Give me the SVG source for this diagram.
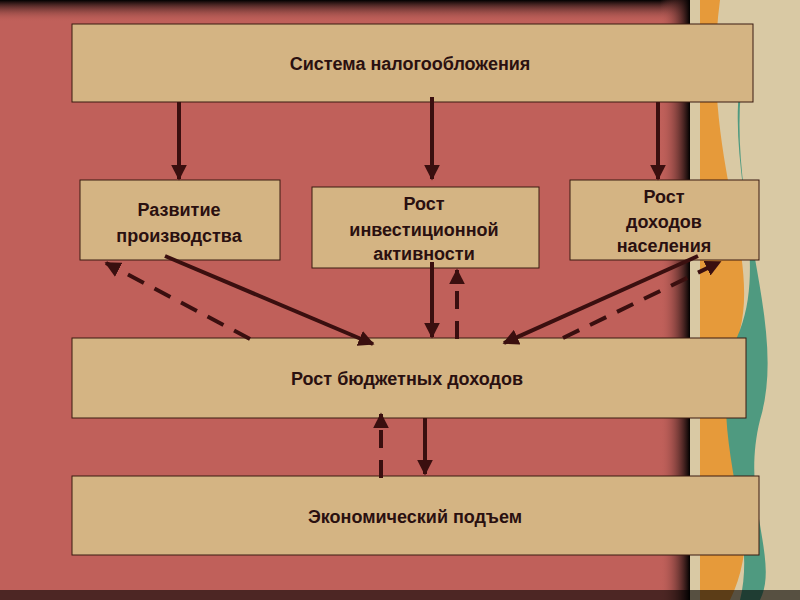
<svg xmlns="http://www.w3.org/2000/svg" width="800" height="600" viewBox="0 0 800 600">
<defs>
<linearGradient id="top" x1="0" y1="0" x2="0" y2="1"><stop offset="0" stop-color="#000"/><stop offset="1" stop-color="#c0605a" stop-opacity="0"/></linearGradient>
<linearGradient id="rs" x1="0" y1="0" x2="1" y2="0"><stop offset="0" stop-color="#c0605a" stop-opacity="0"/><stop offset="1" stop-color="#000"/></linearGradient>
<marker id="ah" viewBox="0 0 10 10" refX="9" refY="5" markerWidth="4" markerHeight="4" orient="auto" markerUnits="strokeWidth"><path d="M0,0 L10,5 L0,10 z" fill="#3a0f0f"/></marker>
<style>
.box{fill:#d4b483;stroke:#3a1a10;stroke-width:1}
.t{font-family:"Liberation Sans",Arial,sans-serif;font-weight:bold;font-size:18px;fill:#2a1010;text-anchor:middle}
.s{stroke:#3a0f0f;stroke-width:4;fill:none;marker-end:url(#ah)}
.d{stroke:#3a0f0f;stroke-width:4;fill:none;stroke-dasharray:18 12;marker-end:url(#ah)}
</style>
</defs>
<rect width="800" height="600" fill="#c0605a"/>
<rect width="690" height="22" fill="url(#top)"/>
<rect x="660" y="0" width="30" height="600" fill="url(#rs)"/>
<rect x="690" y="0" width="110" height="600" fill="#d9c9a4"/>
<path d="M720,0 C700,150 760,250 740,330 C720,420 770,520 730,600 L700,600 L700,0 z" fill="#e69a3a"/>
<path d="M745,60 C720,200 790,320 760,420 C740,500 780,560 760,600 L740,600 C760,520 700,420 740,330 C770,250 720,150 745,60 z" fill="#4f9a80"/>
<rect x="0" y="590" width="800" height="10" fill="#000" opacity="0.6"/>
<g id="n1"><rect class="box" x="72" y="24" width="681" height="78"/><text class="t" x="410" y="70">Система налогообложения</text></g>
<g id="n2"><rect class="box" x="80" y="180" width="200" height="80"/><text class="t" x="179" y="216">Развитие</text><text class="t" x="179" y="242">производства</text></g>
<g id="n3"><rect class="box" x="312" y="187" width="227" height="81"/><text class="t" x="424" y="210">Рост</text><text class="t" x="424" y="236">инвестиционной</text><text class="t" x="424" y="260">активности</text></g>
<g id="n4"><rect class="box" x="570" y="180" width="189" height="80"/><text class="t" x="664" y="203">Рост</text><text class="t" x="664" y="228">доходов</text><text class="t" x="664" y="252">населения</text></g>
<g id="n5"><rect class="box" x="72" y="338" width="674" height="80"/><text class="t" x="407" y="385">Рост бюджетных доходов</text></g>
<g id="n6"><rect class="box" x="72" y="476" width="687" height="79"/><text class="t" x="415" y="523">Экономический подъем</text></g>
<g id="connectors">
<line class="s" x1="179" y1="102" x2="179" y2="179"/>
<line class="s" x1="432" y1="97" x2="432" y2="179"/>
<line class="s" x1="658" y1="102" x2="658" y2="179"/>
<line class="s" x1="165" y1="256" x2="373" y2="344"/>
<line class="d" x1="250" y1="339" x2="106" y2="263"/>
<line class="s" x1="432" y1="262" x2="432" y2="337"/>
<line class="d" x1="457" y1="339" x2="457" y2="270"/>
<line class="s" x1="698" y1="256" x2="504" y2="343"/>
<line class="d" x1="563" y1="338" x2="720" y2="262"/>
<line class="d" x1="381" y1="478" x2="381" y2="414"/>
<line class="s" x1="425" y1="418" x2="425" y2="474"/>
</g>
</svg>
